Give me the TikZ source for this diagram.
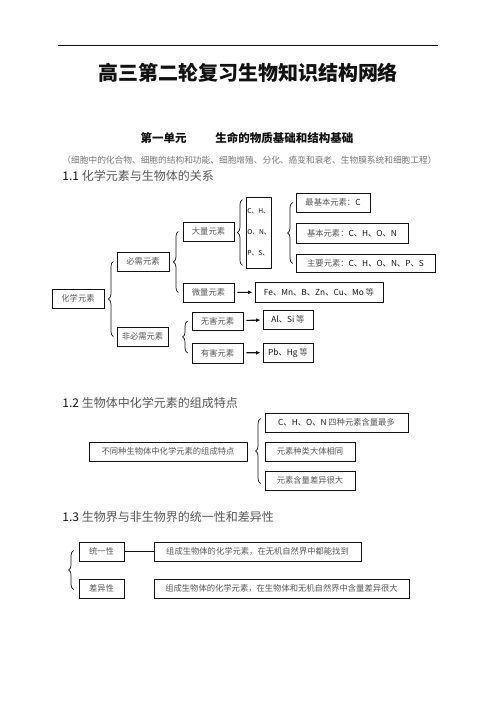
\documentclass[tikz,border=0pt]{standalone}
\usepackage{fontspec}
\setmainfont{Noto Sans CJK SC}
\usetikzlibrary{arrows.meta, calc, decorations.pathreplacing}
\definecolor{cink}{HTML}{111111}
\definecolor{cgrey}{HTML}{555555}
\newcommand{\elm}[1]{\textcolor{cink}{#1}}
\tikzset{
  every picture/.style={line width=0.9pt},
  plainbox/.style={draw=cink, minimum height=19pt, inner sep=0pt, text=cgrey, font=\fontsize{8.3}{10}\selectfont},
  box/.style={plainbox, text height=8pt, text depth=1.2pt},
  arrow/.style={-{Latex[length=4.5pt, width=4pt]}, draw=cink, line width=1.1pt, shorten <=3pt, shorten >=2pt},
  brc/.style={decorate, decoration={brace, amplitude=5pt}, draw=cink, line width=0.7pt},
  head/.style={anchor=west, inner sep=0pt, font=\fontsize{12}{14}\selectfont, text=cgrey},
}

\begin{document}
\begin{tikzpicture}[x=1pt, y=-1pt]
  \fill[white] (0,0) rectangle (496,702);
  \useasboundingbox (0,0) rectangle (496,702);
  % page head
  \coordinate (rl) at (58,45);
  \coordinate (rr) at (438,45);
  \draw[cink, line width=0.6pt] (rl) -- (rr);
  \node[font=\fontsize{20}{24}\selectfont\bfseries, text=cink] (title) at (248,73) {高三第二轮复习生物知识结构网络};
  \node[font=\fontsize{11.5}{14}\selectfont\bfseries, text=cink] (unit) at (247,138) {第一单元\hspace{2.5em}生命的物质基础和结构基础};
  \node[font=\fontsize{8.7}{10}\selectfont, text=cgrey!80] (scope1) at (249.5,160) {（细胞中的化合物、细胞的结构和功能、细胞增殖、分化、癌变和衰老、生物膜系统和细胞工程）};

  % 1.1
  \node[head] (h11) at (62,176) {\elm{1.1} 化学元素与生物体的关系};
  \node[box, minimum width=52pt] (hx) at (78,298.5) {化学元素};
  \node[box, minimum width=52pt] (bx) at (143,261.5) {必需元素};
  \node[box, minimum width=51pt] (fbx) at (142.5,336.5) {非必需元素};
  \node[box, minimum width=51pt] (dl) at (208.5,231.5) {大量元素};
  \node[box, minimum width=51pt] (wl) at (208.5,292.5) {微量元素};
  \node[box, minimum width=128pt, minimum height=20pt] (wlx) at (319,292) {\elm{Fe、Mn、B、Zn、Cu、Mo} 等};
  \node[plainbox, minimum width=25pt, minimum height=71pt, align=left, font=\fontsize{6.7}{21}\selectfont] (chonps) at (259,232.5) {\elm{C、H、}\\\elm{O、N、}\\\elm{P、S、}};
  \node[box, minimum width=74pt] (zjb) at (333,202.5) {最基本元素：\elm{C}};
  \node[box, minimum width=112pt, minimum height=20pt] (jb) at (352,233) {基本元素：\elm{C、H、O、N}};
  \node[box, minimum width=139pt, minimum height=18pt] (zy) at (365.5,263.5) {主要元素：\elm{C、H、O、N、P、S}};
  \node[box, minimum width=51pt, minimum height=18pt] (wh) at (217.5,321) {无害元素};
  \node[box, minimum width=51pt, minimum height=20pt] (yh) at (217.5,353) {有害元素};
  \node[box, minimum width=50pt] (alsi) at (288,319.5) {\elm{Al、Si} 等};
  \node[box, minimum width=50pt] (pbhg) at (288,352.5) {\elm{Pb、Hg} 等};
  \draw[brc] ($(hx.east |- fbx.center)+(9,0)$) -- ($(hx.east |- bx.center)+(9,0)$);
  \draw[brc] ($(bx.east |- wl.center)+(9,0)$) -- ($(bx.east |- dl.center)+(9,0)$);
  \draw[brc] ($(dl.east |- chonps.south)+(8,-3)$) -- ($(dl.east |- chonps.north)+(8,3)$);
  \draw[brc] ($(zjb.west |- zy.center)+(-3,0)$) -- ($(zjb.west |- zjb.center)+(-3,0)$);
  \draw[brc] ($(wh.west |- yh.center)+(-4,0)$) -- ($(wh.west |- wh.center)+(-4,0)$);
  \draw[arrow] (wl) -- (wlx);
  \draw[arrow] (wh) -- (alsi);
  \draw[arrow] (yh) -- (pbhg);

  % 1.2
  \node[head] (h12) at (62,403) {\elm{1.2} 生物体中化学元素的组成特点};
  \node[box, minimum width=158pt] (tz) at (168,451.5) {不同种生物体中化学元素的组成特点};
  \node[box, minimum width=143pt] (tz1) at (336.5,422.5) {\elm{C、H、O、N} 四种元素含量最多};
  \node[box, minimum width=90pt] (tz2) at (310,451.5) {元素种类大体相同};
  \node[box, minimum width=90pt] (tz3) at (310,480.5) {元素含量差异很大};
  \draw[brc] ($(tz1.west |- tz3.center)+(-4,3)$) -- ($(tz1.west |- tz1.center)+(-4,-4)$);

  % 1.3
  \node[head] (h13) at (62,517) {\elm{1.3} 生物界与非生物界的统一性和差异性};
  \node[box, minimum width=45pt] (tyx) at (101.5,551.5) {统一性};
  \node[box, minimum width=207pt] (ty1) at (257.5,551.5) {组成生物体的化学元素，在无机自然界中都能找到};
  \node[box, minimum width=45pt] (cyx) at (101.5,588.5) {差异性};
  \node[box, minimum width=255pt] (cy1) at (281.5,588.5) {组成生物体的化学元素，在生物体和无机自然界中含量差异很大};
  \draw[brc] ($(tyx.west |- cyx.center)+(-5,1)$) -- ($(tyx.west |- tyx.center)+(-5,-1)$);
  \draw[cink] (tyx) -- (ty1);
\end{tikzpicture}
\end{document}
